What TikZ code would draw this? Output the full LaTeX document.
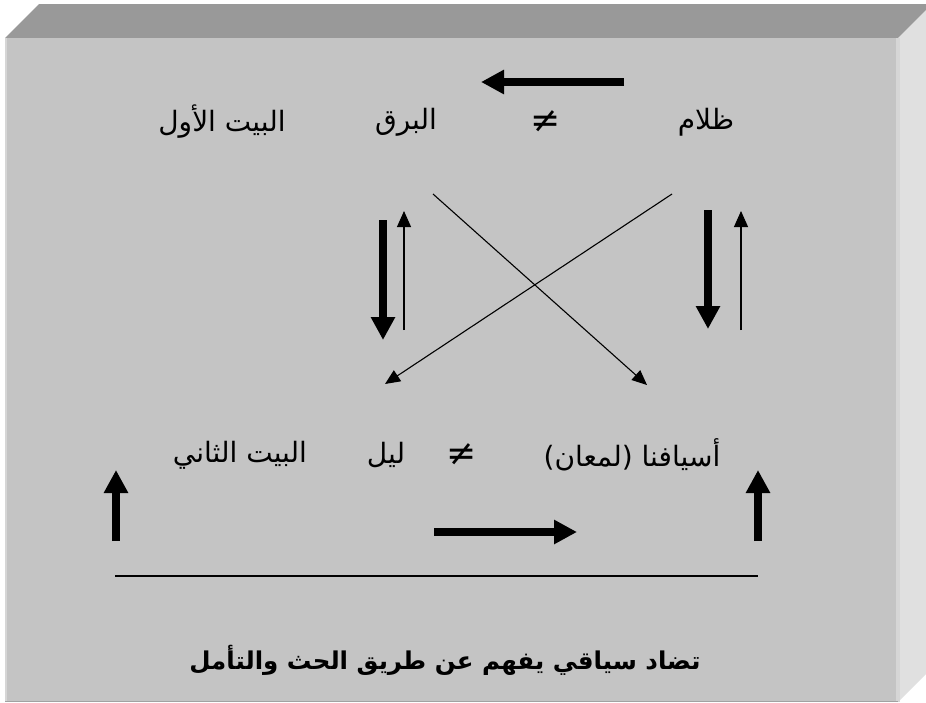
\documentclass[tikz,border=0pt]{standalone}
\usepackage{fontspec}
\usetikzlibrary{arrows.meta}
\TeXXeTstate=1
\newfontfamily\arabicfont[Script=Arabic]{DejaVu Sans}
\newfontfamily\symbfont{DejaVu Sans}

\begin{document}
\begin{tikzpicture}[x=1pt, y=-1pt,
  texto/.style={font=\arabicfont\fontsize{28}{32}\selectfont, inner sep=0pt},
  titulo/.style={font=\arabicfont\bfseries\fontsize{24.5}{28}\selectfont, inner sep=0pt},
  signo/.style={font=\symbfont\fontsize{36}{40}\selectfont, inner sep=0pt},
  flechag/.style={line width=8pt, -{Triangle[length=23pt,width=23pt]}},
  flechaf/.style={line width=1.1pt, -{Triangle[length=16pt,width=14pt]}},
  cruce/.style={line width=1.1pt, -{Triangle[length=15pt,width=13pt]}}]

\definecolor{caraF}{RGB}{196,196,196}
\definecolor{caraS}{RGB}{153,153,153}
\definecolor{caraD}{RGB}{224,224,224}
\definecolor{bordeC}{RGB}{214,214,214}

\def\W{926}
\def\H{702}

\useasboundingbox (0,0) rectangle (\W,\H);
\clip (0,0) rectangle (\W,\H);

% Fondo blanco
\fill[white] (0,0) rectangle (\W,\H);

% === CAJA EN RELIEVE ===
\fill[caraS] (5,38) -- (39,4) -- (970,4) -- (898,38) -- cycle;
\fill[caraD] (898,38) -- (932,4) -- (932,668) -- (898,702) -- cycle;
\fill[caraF] (5,38) rectangle (898,702);
\fill[bordeC] (5,38) rectangle (7,702);
\fill[bordeC] (896,38) rectangle (900,702);
\draw[caraS!80!caraF,thin] (5,701) -- (898,701);

% === FILA SUPERIOR ===
\node[texto] (bayt1) at (222,122) {\beginR البيت الأول\endR};
\node[texto] (barq)  at (406,122) {\beginR البرق\endR};
\node[signo] (neq1)  at (546,122) {≠};
\node[texto] (zalam) at (706,122) {\beginR ظلام\endR};

% === FILA INFERIOR ===
\node[texto] (bayt2) at (240,455) {\beginR البيت الثاني\endR};
\node[texto] (layl)  at (386,455) {\beginR ليل\endR};
\node[signo] (neq2)  at (462,455) {≠};
\node[texto] (asyaf) at (632,455) {\beginR أسيافنا (لمعان)\endR};

% === LEYENDA ===
\node[titulo] (leyenda) at (445,660) {\beginR تضاد سياقي يفهم عن طريق الحث والتأمل\endR};

% === PUNTOS DE LAS FLECHAS ===
\coordinate (arrA) at (624,82);  \coordinate (arrB) at (481,82);
\coordinate (abaA) at (434,532); \coordinate (abaB) at (577,532);
\coordinate (izqA) at (383,220); \coordinate (izqB) at (383,340);
\coordinate (izqC) at (404,330); \coordinate (izqD) at (404,211);
\coordinate (derA) at (708,210); \coordinate (derB) at (708,329);
\coordinate (derC) at (741,330); \coordinate (derD) at (741,211);
\coordinate (subA) at (116,541); \coordinate (subB) at (116,470);
\coordinate (subC) at (758,541); \coordinate (subD) at (758,470);
\coordinate (cruA) at (433,194); \coordinate (cruB) at (647,385);
\coordinate (cruC) at (672,194); \coordinate (cruD) at (385,384);
\coordinate (linA) at (115,576); \coordinate (linB) at (758,576);

% === FLECHAS ===
\draw[flechag] (arrA) -- (arrB);
\draw[flechag] (abaA) -- (abaB);
\draw[flechag] (izqA) -- (izqB);
\draw[flechaf] (izqC) -- (izqD);
\draw[flechag] (derA) -- (derB);
\draw[flechaf] (derC) -- (derD);
\draw[flechag] (subA) -- (subB);
\draw[flechag] (subC) -- (subD);
\draw[cruce] (cruA) -- (cruB);
\draw[cruce] (cruC) -- (cruD);

% === LINEA ===
\draw[line width=1.1pt] (linA) -- (linB);

\end{tikzpicture}
\end{document}
